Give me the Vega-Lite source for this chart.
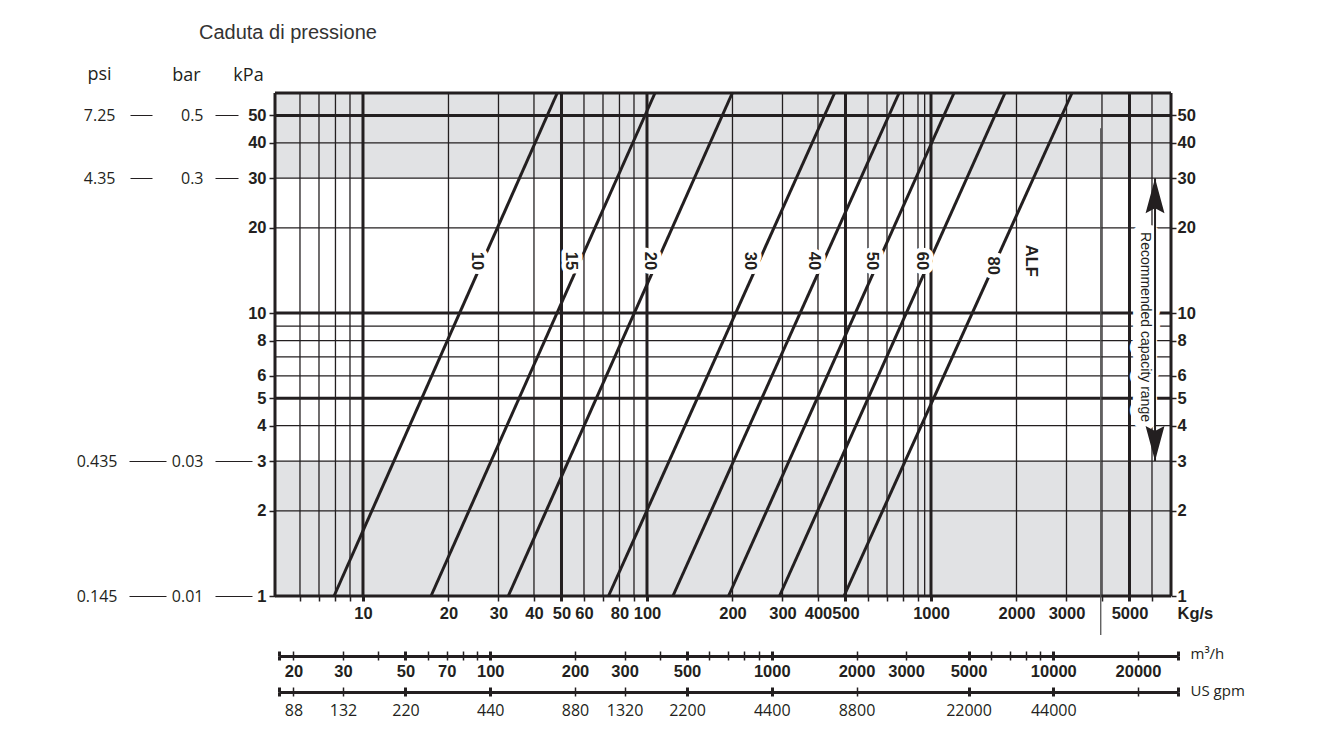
{
  "$schema": "https://vega.github.io/schema/vega-lite/v6.json",
  "width": 896,
  "height": 503,
  "autosize": {"type": "none"},
  "padding": {"left": 275, "top": 93, "right": 159, "bottom": 135},
  "background": "white",
  "title": {"text": "Caduta di pressione", "anchor": "start", "frame": "group", "dx": -76, "offset": 22, "font": "Liberation Sans", "fontSize": 20, "fontWeight": "normal", "color": "#333333"},
  "config": {
    "view": {"stroke": null},
    "axis": {"labelFont": "Liberation Sans", "titleFont": "Liberation Sans", "labelColor": "#231f20", "tickColor": "#231f20", "titleColor": "#231f20", "domainColor": "#231f20", "grid": false, "labelOverlap": false, "labelFlush": false, "labelBound": false}
  },
  "datasets": {
    "bands": [
      {"lo": 30, "hi": 60, "x0": 4.9, "x1": 7000},
      {"lo": 1, "hi": 3, "x0": 4.9, "x1": 7000}
    ],
    "gridx": [
      {"kgs": 4.9, "kind": "major"}, {"kgs": 6, "kind": "minor"}, {"kgs": 7, "kind": "minor"}, {"kgs": 8, "kind": "minor"}, {"kgs": 9, "kind": "minor"},
      {"kgs": 10, "kind": "major"}, {"kgs": 20, "kind": "minor"}, {"kgs": 30, "kind": "minor"}, {"kgs": 40, "kind": "minor"}, {"kgs": 50, "kind": "major"},
      {"kgs": 60, "kind": "minor"}, {"kgs": 70, "kind": "minor"}, {"kgs": 80, "kind": "minor"}, {"kgs": 90, "kind": "minor"}, {"kgs": 100, "kind": "major"},
      {"kgs": 200, "kind": "minor"}, {"kgs": 300, "kind": "minor"}, {"kgs": 400, "kind": "minor"}, {"kgs": 500, "kind": "major"}, {"kgs": 600, "kind": "minor"},
      {"kgs": 700, "kind": "minor"}, {"kgs": 800, "kind": "minor"}, {"kgs": 900, "kind": "minor"}, {"kgs": 950, "kind": "minor"}, {"kgs": 1000, "kind": "major"},
      {"kgs": 2000, "kind": "minor"}, {"kgs": 3000, "kind": "minor"}, {"kgs": 4000, "kind": "minor"}, {"kgs": 5000, "kind": "major"}, {"kgs": 6000, "kind": "minor"},
      {"kgs": 7000, "kind": "major"}
    ],
    "gridy": [
      {"kpa": 1, "kind": "major"}, {"kpa": 2, "kind": "minor"}, {"kpa": 3, "kind": "minor"}, {"kpa": 4, "kind": "minor"}, {"kpa": 5, "kind": "major"},
      {"kpa": 6, "kind": "minor"}, {"kpa": 7, "kind": "minor"}, {"kpa": 8, "kind": "minor"}, {"kpa": 9, "kind": "minor"}, {"kpa": 10, "kind": "major"},
      {"kpa": 20, "kind": "minor"}, {"kpa": 30, "kind": "minor"}, {"kpa": 40, "kind": "minor"}, {"kpa": 50, "kind": "major"}, {"kpa": 60, "kind": "major"}
    ],
    "lines": [
      {"size": "10", "kgs": 7.91, "kpa": 1}, {"size": "10", "kgs": 48.3, "kpa": 60},
      {"size": "15", "kgs": 17.36, "kpa": 1}, {"size": "15", "kgs": 106.7, "kpa": 60},
      {"size": "20", "kgs": 32.48, "kpa": 1}, {"size": "20", "kgs": 199.7, "kpa": 60},
      {"size": "30", "kgs": 73.2, "kpa": 1}, {"size": "30", "kgs": 457.7, "kpa": 60},
      {"size": "40", "kgs": 123.4, "kpa": 1}, {"size": "40", "kgs": 771.8, "kpa": 60},
      {"size": "50", "kgs": 193.7, "kpa": 1}, {"size": "50", "kgs": 1205, "kpa": 60},
      {"size": "60", "kgs": 292.8, "kpa": 1}, {"size": "60", "kgs": 1822, "kpa": 60},
      {"size": "80", "kgs": 494.1, "kpa": 1}, {"size": "80", "kgs": 3137, "kpa": 60}
    ],
    "labels": [
      {"text": "10", "kgs": 25.2, "kpa": 15.3},
      {"text": "15", "kgs": 53.8, "kpa": 15.3},
      {"text": "20", "kgs": 102.7, "kpa": 15.3},
      {"text": "30", "kgs": 229.6, "kpa": 15.3},
      {"text": "40", "kgs": 387.4, "kpa": 15.3},
      {"text": "50", "kgs": 622, "kpa": 15.3},
      {"text": "60", "kgs": 927.5, "kpa": 15.3},
      {"text": "80", "kgs": 1654, "kpa": 14.7},
      {"text": "ALF", "kgs": 2250, "kpa": 15.3}
    ],
    "odd": [{"kgs": 3960, "top": 45, "bottom": 0.728}],
    "range": [{"kgs": 6150, "lo": 3, "hi": 30, "text": "Recommended capacity range", "tkgs": 5670, "tkpa": 8.93}],
    "heads": [{"kgs": 6150, "kpa": 30, "dir": "up"}, {"kgs": 6150, "kpa": 3, "dir": "down"}]
  },
  "resolve": {"scale": {"x": "independent"}, "axis": {"x": "independent", "y": "independent"}},
  "layer": [
    {
      "data": {"name": "bands"},
      "mark": {"type": "rect", "color": "#e1e2e4"},
      "encoding": {
        "x": {"field": "x0", "type": "quantitative", "scale": {"type": "log", "domain": [4.9, 7000]},
          "axis": {"orient": "bottom", "values": [6,7,8,9,10,20,30,40,50,60,70,80,90,100,200,300,400,500,600,700,800,900,1000,2000,3000,4000,5000,6000],
            "labelExpr": "indexof([10,20,30,40,50,60,80,100,200,300,400,500,1000,2000,3000,5000], datum.value) >= 0 ? format(datum.value, 'd') : ''",
            "tickSize": 5, "tickWidth": {"condition": {"test": "indexof([10,50,100,500,1000,5000], datum.value) >= 0", "value": 3}, "value": 1.5},
            "domain": false, "labelFontSize": 16.5, "labelFontWeight": "bold", "labelPadding": 4,
            "title": "Kg/s", "titleFontSize": 16.5, "titleFontWeight": "bold", "titleAngle": 0, "titleAlign": "left", "titleBaseline": "middle", "titleX": 902, "titleY": 17}},
        "x2": {"field": "x1"},
        "y": {"field": "lo", "type": "quantitative", "scale": {"type": "log", "domain": [1, 60]},
          "axis": {"orient": "left", "values": [1,2,3,4,5,6,8,10,20,30,40,50], "format": "d", "domain": false,
            "tickSize": 6, "tickWidth": 1.5, "labelPadding": 3, "labelFontSize": 16.5, "labelFontWeight": "bold",
            "title": "kPa", "titleFont": "Open Sans", "titleFontSize": 18, "titleFontWeight": "normal", "titleAngle": 0, "titleAlign": "center", "titleBaseline": "alphabetic", "titleX": -27, "titleY": -13}},
        "y2": {"field": "hi"}
      }
    },
    {
      "data": {"name": "gridx"},
      "mark": {"type": "rule", "color": "#231f20"},
      "encoding": {
        "x": {"field": "kgs", "type": "quantitative", "scale": {"type": "log", "domain": [4.9, 7000]}, "axis": null},
        "strokeWidth": {"condition": {"test": "datum.kind == 'major'", "value": 3}, "value": 1.3}
      }
    },
    {
      "data": {"name": "gridy"},
      "mark": {"type": "rule", "color": "#231f20"},
      "encoding": {
        "y": {"field": "kpa", "type": "quantitative", "scale": {"type": "log", "domain": [1, 60]},
          "axis": {"orient": "right", "values": [1,2,3,4,5,6,8,10,20,30,40,50], "format": "d", "domain": false,
            "tickSize": 5, "tickWidth": 1.5, "labelPadding": 1, "labelFontSize": 16.5, "labelFontWeight": "bold", "title": null}},
        "strokeWidth": {"condition": {"test": "datum.kind == 'major'", "value": 3}, "value": 1.3}
      }
    },
    {
      "data": {"name": "lines"},
      "mark": {"type": "line", "color": "#231f20", "strokeWidth": 3, "strokeCap": "butt"},
      "encoding": {
        "x": {"field": "kgs", "type": "quantitative", "scale": {"type": "log", "domain": [4.9, 7000]}, "axis": null},
        "y": {"field": "kpa", "type": "quantitative", "scale": {"type": "log", "domain": [1, 60]},
          "axis": {"orient": "left", "offset": 37, "values": [30, 50], "labelExpr": "datum.value == 50 ? '0.5' : '0.3'", "domain": false,
            "tickSize": 23, "tickWidth": 1, "labelPadding": 12, "labelFont": "Open Sans", "labelFontSize": 16, "labelFontWeight": "normal",
            "title": "bar", "titleFont": "Open Sans", "titleFontSize": 18, "titleFontWeight": "normal", "titleAngle": 0, "titleAlign": "center", "titleBaseline": "alphabetic", "titleX": -52, "titleY": -13}},
        "detail": {"field": "size"}
      }
    },
    {
      "data": {"name": "odd"},
      "mark": {"type": "rule", "color": "#555555", "strokeWidth": 1.3},
      "encoding": {
        "x": {"field": "kgs", "type": "quantitative", "scale": {"type": "log", "domain": [4.9, 7000]}, "axis": null},
        "y": {"field": "top", "type": "quantitative", "scale": {"type": "log", "domain": [1, 60]},
          "axis": {"orient": "left", "offset": 109, "values": [1, 3], "labelExpr": "datum.value == 3 ? '0.435' : '0.145'", "domain": false,
            "tickSize": 37, "tickWidth": 1, "labelPadding": 12, "labelFont": "Open Sans", "labelFontSize": 16, "labelFontWeight": "normal", "title": null}},
        "y2": {"field": "bottom"}
      }
    },
    {
      "data": {"name": "labels"},
      "mark": {"type": "text", "angle": 90, "align": "center", "baseline": "middle", "font": "Liberation Sans", "fontSize": 16.5, "fontWeight": "bold", "fill": "white", "stroke": "white", "strokeWidth": 9, "strokeJoin": "round"},
      "encoding": {
        "x": {"field": "kgs", "type": "quantitative", "scale": {"type": "log", "domain": [4.9, 7000]}, "axis": null},
        "y": {"field": "kpa", "type": "quantitative", "scale": {"type": "log", "domain": [1, 60]},
          "axis": {"orient": "left", "offset": 23, "values": [1, 3], "labelExpr": "datum.value == 3 ? '0.03' : '0.01'", "domain": false,
            "tickSize": 37, "tickWidth": 1, "labelPadding": 12, "labelFont": "Open Sans", "labelFontSize": 16, "labelFontWeight": "normal", "title": null}},
        "text": {"field": "text"}
      }
    },
    {
      "data": {"name": "labels"},
      "mark": {"type": "text", "angle": 90, "align": "center", "baseline": "middle", "font": "Liberation Sans", "fontSize": 16.5, "fontWeight": "bold", "color": "#231f20"},
      "encoding": {
        "x": {"field": "kgs", "type": "quantitative", "scale": {"type": "log", "domain": [4.9, 7000]}, "axis": null},
        "y": {"field": "kpa", "type": "quantitative", "scale": {"type": "log", "domain": [1, 60]},
          "axis": {"orient": "left", "offset": 123, "values": [30, 50], "labelExpr": "datum.value == 50 ? '7.25' : '4.35'", "domain": false,
            "tickSize": 22, "tickWidth": 1, "labelPadding": 15, "labelFont": "Open Sans", "labelFontSize": 16, "labelFontWeight": "normal",
            "title": "psi", "titleFont": "Open Sans", "titleFontSize": 18, "titleFontWeight": "normal", "titleAngle": 0, "titleAlign": "center", "titleBaseline": "alphabetic", "titleX": -53, "titleY": -14}},
        "text": {"field": "text"}
      }
    },
    {
      "data": {"name": "range"},
      "mark": {"type": "text", "angle": 90, "align": "center", "baseline": "middle", "font": "Liberation Sans", "fontSize": 14, "fill": "white", "stroke": "white", "strokeWidth": 16, "strokeJoin": "round"},
      "encoding": {
        "x": {"field": "tkgs", "type": "quantitative", "scale": {"type": "log", "domain": [4.9, 7000]}, "axis": null},
        "y": {"field": "tkpa", "type": "quantitative", "scale": {"type": "log", "domain": [1, 60]}, "axis": null},
        "text": {"field": "text"}
      }
    },
    {
      "data": {"name": "range"},
      "mark": {"type": "text", "angle": 90, "align": "center", "baseline": "middle", "font": "Liberation Sans", "fontSize": 14, "color": "#231f20"},
      "encoding": {
        "x": {"field": "tkgs", "type": "quantitative", "scale": {"type": "log", "domain": [4.9, 7000]}, "axis": null},
        "y": {"field": "tkpa", "type": "quantitative", "scale": {"type": "log", "domain": [1, 60]}, "axis": null},
        "text": {"field": "text"}
      }
    },
    {
      "data": {"name": "range"},
      "mark": {"type": "rule", "color": "#231f20", "strokeWidth": 2},
      "encoding": {
        "x": {"field": "kgs", "type": "quantitative", "scale": {"type": "log", "domain": [4.9, 7000]}, "axis": null},
        "y": {"field": "lo", "type": "quantitative", "scale": {"type": "log", "domain": [1, 60]}, "axis": null},
        "y2": {"field": "hi"}
      }
    },
    {
      "data": {"name": "heads"},
      "mark": {"type": "point", "filled": true, "color": "#231f20", "opacity": 1, "size": 4900, "strokeWidth": 0},
      "encoding": {
        "x": {"field": "kgs", "type": "quantitative", "scale": {"type": "log", "domain": [4.9, 7000]}, "axis": null},
        "y": {"field": "kpa", "type": "quantitative", "scale": {"type": "log", "domain": [1, 60]}, "axis": null},
        "shape": {"field": "dir", "type": "nominal", "scale": {"domain": ["up", "down"], "range": ["M0,0L0.27,1L0,0.86L-0.27,1Z", "M0,0L0.27,-1L0,-0.86L-0.27,-1Z"]}, "legend": null}
      }
    },
    {
      "data": {"values": [{"m3h": 100}]},
      "mark": {"type": "point", "opacity": 0},
      "encoding": {
        "x": {"field": "m3h", "type": "quantitative", "scale": {"type": "log", "domain": [17.77, 27733], "range": [4, 903]},
          "axis": {"orient": "bottom", "offset": 60, "domain": true, "domainWidth": 3,
            "values": [17.78,20,30,40,50,60,70,80,90,100,200,300,400,500,600,700,800,900,1000,2000,3000,5000,6000,7000,8000,9000,10000,20000,27730],
            "tickSize": 4, "tickWidth": {"condition": {"test": "indexof([17.78,50,100,500,1000,5000,10000,27730], datum.value) >= 0", "value": 3}, "value": 1.5},
            "labelExpr": "indexof([20,30,50,70,100,200,300,500,1000,2000,3000,5000,10000,20000], datum.value) >= 0 ? format(datum.value, 'd') : ''",
            "labelFontSize": 16.5, "labelFontWeight": "bold", "labelPadding": 3,
            "title": "m³/h", "titleFont": "Open Sans", "titleFontSize": 15, "titleFontWeight": "normal", "titleAngle": 0, "titleAlign": "left", "titleBaseline": "middle", "titleX": 915, "titleY": -3}}
      }
    },
    {
      "data": {"values": [{"m3h": 100}]},
      "mark": {"type": "point", "opacity": 0},
      "encoding": {
        "x": {"field": "m3h", "type": "quantitative", "scale": {"type": "log", "domain": [17.77, 27733], "range": [4, 903]},
          "axis": {"orient": "bottom", "offset": 55, "domain": false, "labels": false, "title": null,
            "values": [17.78,20,30,40,50,60,70,80,90,100,200,300,400,500,600,700,800,900,1000,2000,3000,5000,6000,7000,8000,9000,10000,20000,27730],
            "tickSize": 5, "tickWidth": {"condition": {"test": "indexof([17.78,50,100,500,1000,5000,10000,27730], datum.value) >= 0", "value": 3}, "value": 1.5}}}
      }
    },
    {
      "data": {"values": [{"m3h": 100}]},
      "mark": {"type": "point", "opacity": 0},
      "encoding": {
        "x": {"field": "m3h", "type": "quantitative", "scale": {"type": "log", "domain": [17.77, 27733], "range": [4, 903]},
          "axis": {"orient": "bottom", "offset": 96, "domain": true, "domainWidth": 3,
            "values": [17.78,20,30,50,100,200,300,500,1000,2000,5000,10000,20000,27730],
            "tickSize": 4, "tickWidth": {"condition": {"test": "indexof([17.78,50,100,500,1000,5000,10000,27730], datum.value) >= 0", "value": 3}, "value": 1.5},
            "labelExpr": "datum.value >= 20 && datum.value <= 10000 ? format(datum.value * 4.4, 'd') : ''",
            "labelFont": "Open Sans", "labelFontSize": 16, "labelFontWeight": "normal", "labelPadding": 6,
            "title": "US gpm", "titleFont": "Open Sans", "titleFontSize": 15, "titleFontWeight": "normal", "titleAngle": 0, "titleAlign": "left", "titleBaseline": "middle", "titleX": 915, "titleY": -2}}
      }
    },
    {
      "data": {"values": [{"m3h": 100}]},
      "mark": {"type": "point", "opacity": 0},
      "encoding": {
        "x": {"field": "m3h", "type": "quantitative", "scale": {"type": "log", "domain": [17.77, 27733], "range": [4, 903]},
          "axis": {"orient": "bottom", "offset": 91, "domain": false, "labels": false, "title": null,
            "values": [17.78,20,30,50,100,200,300,500,1000,2000,5000,10000,20000,27730],
            "tickSize": 5, "tickWidth": {"condition": {"test": "indexof([17.78,50,100,500,1000,5000,10000,27730], datum.value) >= 0", "value": 3}, "value": 1.5}}}
      }
    }
  ]
}
